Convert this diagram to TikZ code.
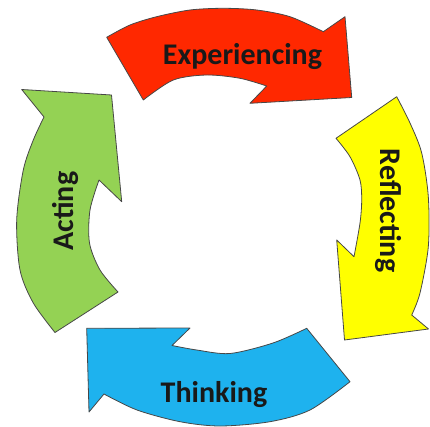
\documentclass[tikz,border=0pt]{standalone}
\usepackage{fontspec}
\setmainfont{Carlito}
\definecolor{redf}{RGB}{255,40,0}
\definecolor{yelf}{RGB}{255,255,0}
\definecolor{bluf}{RGB}{30,178,238}
\definecolor{grnf}{RGB}{148,210,84}
\definecolor{txt}{RGB}{25,25,25}
\begin{document}
\begin{tikzpicture}[x=1pt,y=-1pt,
  arrowbody/.style={draw=black!72,line width=0.8pt,line join=round},
  lbl/.style={font=\bfseries\fontsize{30}{30}\selectfont,text=txt,inner sep=0pt,anchor=base}]
\useasboundingbox (0,0) rectangle (430,427);
% red (Experiencing)
\path[arrowbody,fill=redf] (106.7,37.3)
  -- plot[smooth] coordinates {(106.7,37.3)(130,25)(156.7,16.7)(190,10)(223.3,8.3)(256.7,10)(290,16.7)(323.3,31.7)}
  -- (345,16.7) -- (351.7,97.5) -- (250,103.3) -- (266.7,86)
  -- plot[smooth] coordinates {(266.7,86)(240,78.3)(206.7,75)(173.3,80)(143.3,100)} -- cycle;
% yellow (Reflecting)
\path[arrowbody,fill=yelf] (336,138.3) -- (396.7,96.7)
  -- plot[smooth] coordinates {(396.7,96.7)(410,123)(421.7,153)(428.3,196.7)(428.3,246.7)(420,293)(411.7,315)}
  -- (428.5,329) -- (344.5,340) -- (336.7,240) -- (354,256.7)
  -- plot[smooth] coordinates {(354,256.7)(360,223)(361.7,200)(360,180)(350,156.7)(336,138.3)} -- cycle;
% blue (Thinking)
\path[arrowbody,fill=bluf] (306.7,328.3) -- (350,381.7)
  -- plot[smooth] coordinates {(350,381.7)(310,410)(270,421.7)(220,426)(180,421.7)(137,410)(104,394)}
  -- (89,412) -- (86.7,328.3) -- (190,328) -- (172,345.5)
  -- plot[smooth] coordinates {(172,345.5)(196.7,350)(230,353.5)(273,343)(306.7,328.3)} -- cycle;
% green (Acting)
\path[arrowbody,fill=grnf] (55,332.5)
  -- plot[smooth] coordinates {(55,332.5)(33.3,303)(20,270)(16.7,220)(23.3,170)(33.3,140)(44,117)}
  -- (21.7,89.5) -- (111.5,95) -- (121.7,201.7) -- (99,180)
  -- plot[smooth] coordinates {(99,180)(90,210)(89.5,243)(100,270)(118,292)} -- cycle;
% labels
\node[lbl] (exp) at (242.5,65) {Experiencing};
\node[lbl,rotate=-90] (ref) at (380,210.5) {Reflecting};
\node[lbl] (thi) at (214,402) {Thinking};
\node[lbl,rotate=90] (act) at (73,211) {Acting};
\end{tikzpicture}
\end{document}
